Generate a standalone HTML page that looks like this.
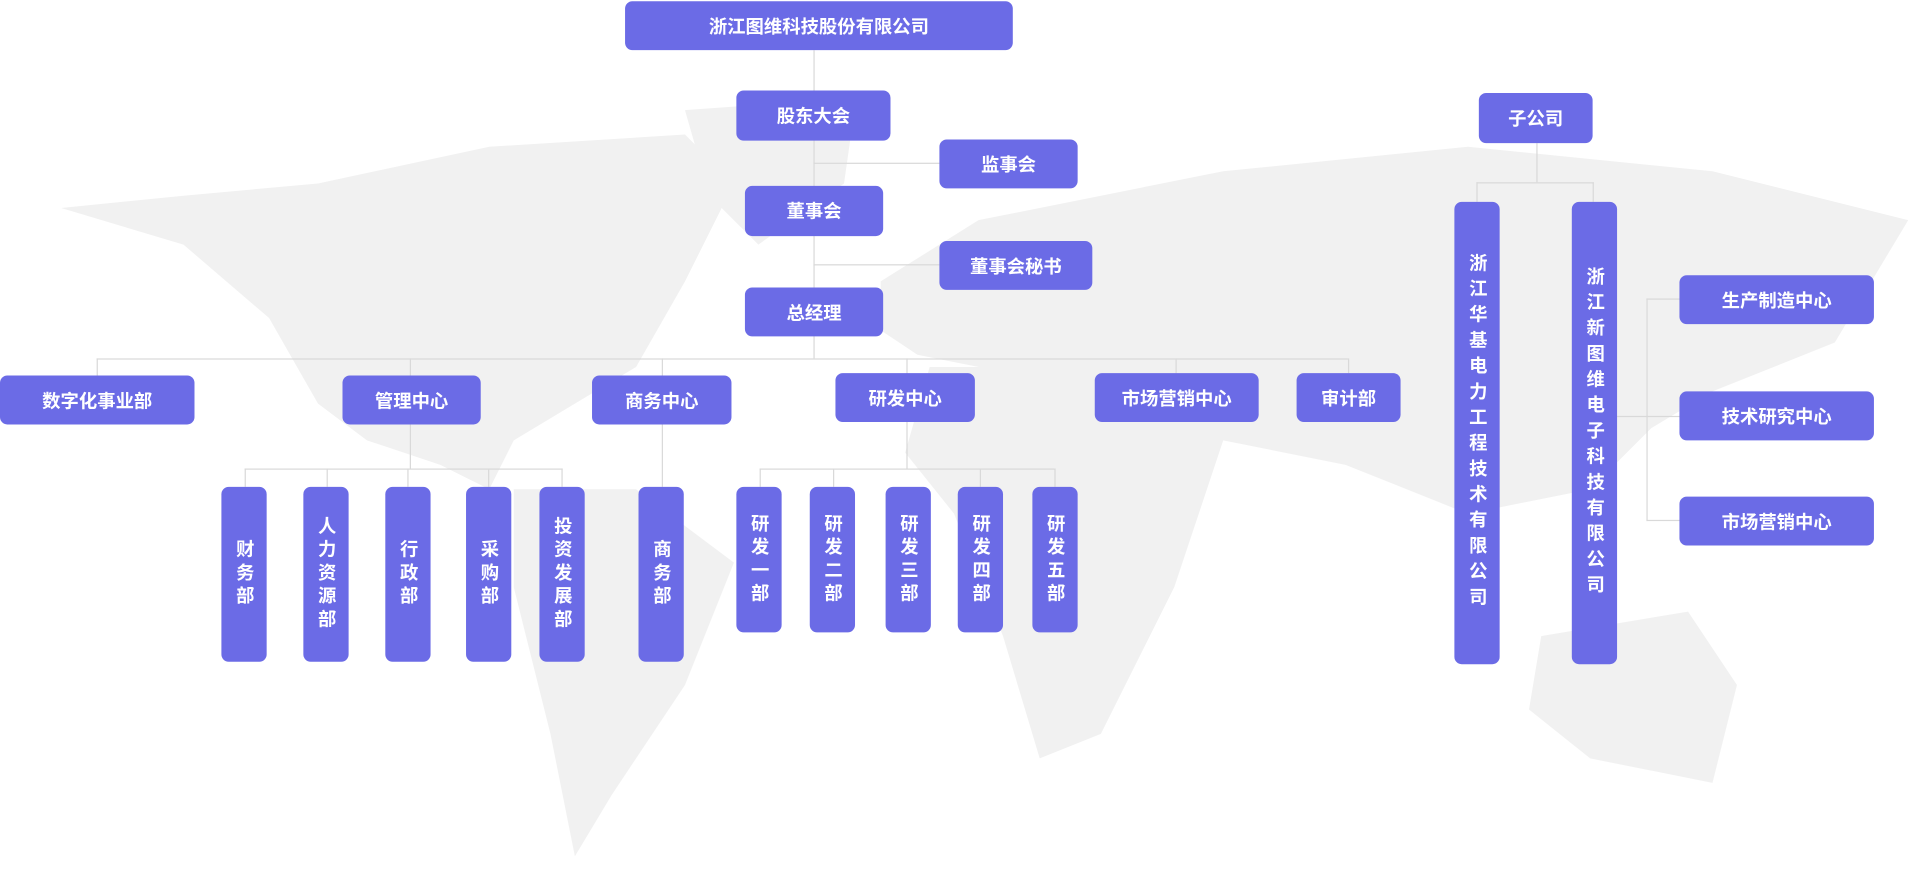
<!DOCTYPE html>
<html><head><meta charset="utf-8">
<style>
html,body{margin:0;padding:0;background:#fff;width:1918px;height:877px;overflow:hidden}
#s{position:absolute;left:0;top:0;width:1568px;height:717px;transform:scale(1.2232);transform-origin:0 0}
.b{position:absolute;background:#6b6be6;color:#fff;border-radius:6px;display:flex;align-items:center;justify-content:center;font-family:"Liberation Sans","Noto Sans CJK SC",sans-serif;font-size:15px;font-weight:bold;box-sizing:border-box}
.v{writing-mode:vertical-rl;letter-spacing:4px;line-height:37px}
.l{position:absolute;background:#d9d9d9}
</style></head><body>
<div id="s">
<svg width="1568" height="717" style="position:absolute;left:0;top:0" fill="#f1f1f1">
<polygon points="50,170 150,160 260,150 400,120 560,110 600,150 560,230 520,300 470,330 420,360 400,400 360,380 300,360 260,330 220,260 150,200"/>
<polygon points="560,90 700,80 690,150 620,200 580,160"/>
<polygon points="420,400 520,400 600,460 560,560 500,650 470,700 450,600 420,480"/>
<polygon points="720,230 800,180 1000,140 1200,120 1400,140 1560,180 1500,280 1400,320 1350,350 1300,400 1200,420 1100,380 1000,360 920,330 850,310 750,290 720,270"/>
<polygon points="760,300 900,300 1000,360 960,480 900,600 850,620 820,520 780,420 740,370"/>
<polygon points="1260,520 1380,500 1420,560 1400,640 1300,620 1250,580"/>
</svg>
<div class="l" style="left:665px;top:41px;width:1px;height:252px"></div>
<div class="l" style="left:665px;top:133px;width:103px;height:1px"></div>
<div class="l" style="left:665px;top:216px;width:103px;height:1px"></div>
<div class="l" style="left:79px;top:293px;width:1023px;height:1px"></div>
<div class="l" style="left:79px;top:293px;width:1px;height:14px"></div>
<div class="l" style="left:335px;top:293px;width:1px;height:90px"></div>
<div class="l" style="left:541px;top:293px;width:1px;height:105px"></div>
<div class="l" style="left:741px;top:293px;width:1px;height:90px"></div>
<div class="l" style="left:961px;top:293px;width:1px;height:12px"></div>
<div class="l" style="left:1102px;top:293px;width:1px;height:12px"></div>
<div class="l" style="left:200px;top:383px;width:260px;height:1px"></div>
<div class="l" style="left:200px;top:383px;width:1px;height:15px"></div>
<div class="l" style="left:267px;top:383px;width:1px;height:15px"></div>
<div class="l" style="left:333px;top:383px;width:1px;height:15px"></div>
<div class="l" style="left:399px;top:383px;width:1px;height:15px"></div>
<div class="l" style="left:459px;top:383px;width:1px;height:15px"></div>
<div class="l" style="left:621px;top:383px;width:241px;height:1px"></div>
<div class="l" style="left:621px;top:383px;width:1px;height:15px"></div>
<div class="l" style="left:681px;top:383px;width:1px;height:15px"></div>
<div class="l" style="left:801px;top:383px;width:1px;height:15px"></div>
<div class="l" style="left:862px;top:383px;width:1px;height:15px"></div>
<div class="l" style="left:1256px;top:117px;width:1px;height:32px"></div>
<div class="l" style="left:1207px;top:149px;width:96px;height:1px"></div>
<div class="l" style="left:1207px;top:149px;width:1px;height:16px"></div>
<div class="l" style="left:1302px;top:149px;width:1px;height:16px"></div>
<div class="l" style="left:1346px;top:244px;width:1px;height:182px"></div>
<div class="l" style="left:1346px;top:244px;width:27px;height:1px"></div>
<div class="l" style="left:1322px;top:340px;width:51px;height:1px"></div>
<div class="l" style="left:1346px;top:425px;width:27px;height:1px"></div>

<div class="b" style="left:511px;top:1px;width:317px;height:40px">浙江图维科技股份有限公司</div>
<div class="b" style="left:602px;top:74px;width:126px;height:41px">股东大会</div>
<div class="b" style="left:768px;top:114px;width:113px;height:40px">监事会</div>
<div class="b" style="left:609px;top:152px;width:113px;height:41px">董事会</div>
<div class="b" style="left:768px;top:197px;width:125px;height:40px">董事会秘书</div>
<div class="b" style="left:609px;top:235px;width:113px;height:40px">总经理</div>
<div class="b" style="left:0px;top:307px;width:159px;height:40px">数字化事业部</div>
<div class="b" style="left:280px;top:307px;width:113px;height:40px">管理中心</div>
<div class="b" style="left:484px;top:307px;width:114px;height:40px">商务中心</div>
<div class="b" style="left:683px;top:305px;width:114px;height:40px">研发中心</div>
<div class="b" style="left:895px;top:305px;width:134px;height:40px">市场营销中心</div>
<div class="b" style="left:1060px;top:305px;width:85px;height:40px">审计部</div>

<div class="b v" style="left:181px;top:398px;width:37px;height:143px">财务部</div>
<div class="b v" style="left:248px;top:398px;width:37px;height:143px">人力资源部</div>
<div class="b v" style="left:315px;top:398px;width:37px;height:143px">行政部</div>
<div class="b v" style="left:381px;top:398px;width:37px;height:143px">采购部</div>
<div class="b v" style="left:441px;top:398px;width:37px;height:143px">投资发展部</div>
<div class="b v" style="left:522px;top:398px;width:37px;height:143px">商务部</div>
<div class="b v" style="left:602px;top:398px;width:37px;height:119px">研发一部</div>
<div class="b v" style="left:662px;top:398px;width:37px;height:119px">研发二部</div>
<div class="b v" style="left:724px;top:398px;width:37px;height:119px">研发三部</div>
<div class="b v" style="left:783px;top:398px;width:37px;height:119px">研发四部</div>
<div class="b v" style="left:844px;top:398px;width:37px;height:119px">研发五部</div>

<div class="b" style="left:1209px;top:76px;width:93px;height:41px">子公司</div>
<div class="b v" style="left:1189px;top:165px;width:37px;height:378px;letter-spacing:6px">浙江华基电力工程技术有限公司</div>
<div class="b v" style="left:1285px;top:165px;width:37px;height:378px;letter-spacing:6px">浙江新图维电子科技有限公司</div>
<div class="b" style="left:1373px;top:225px;width:159px;height:40px">生产制造中心</div>
<div class="b" style="left:1373px;top:320px;width:159px;height:40px">技术研究中心</div>
<div class="b" style="left:1373px;top:406px;width:159px;height:40px">市场营销中心</div>
</div>
</body></html>
